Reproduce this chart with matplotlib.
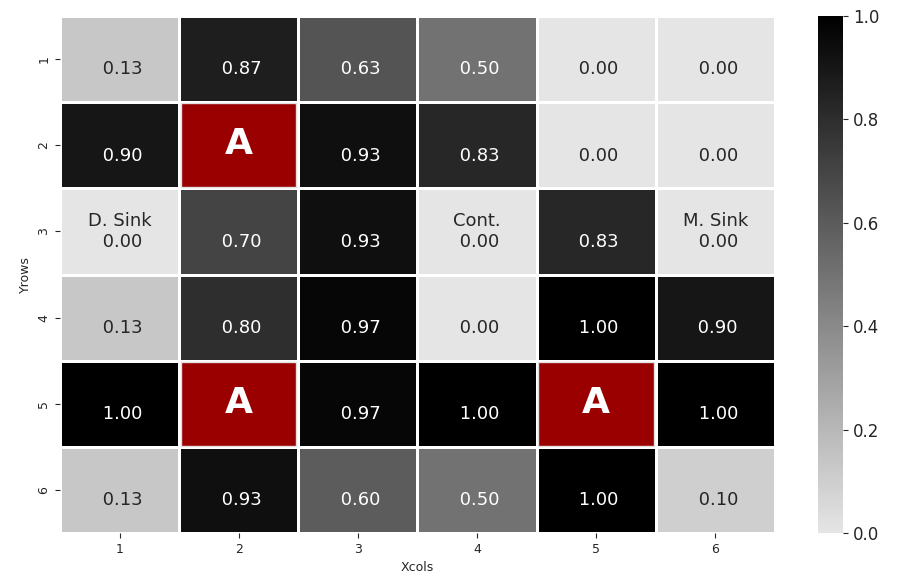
import numpy as np
import matplotlib
matplotlib.use("Agg")
import matplotlib.pyplot as plt
import seaborn as sns
from matplotlib.colors import LinearSegmentedColormap
from matplotlib.patches import Rectangle

xcols = [1, 2, 3, 4, 5, 6]
yrows = [1, 2, 3, 4, 5, 6]

# nan = agent cell ("A")
values = np.array([
    [0.13, 0.87, 0.63, 0.50, 0.00, 0.00],
    [0.90, np.nan, 0.93, 0.83, 0.00, 0.00],
    [0.00, 0.70, 0.93, 0.00, 0.83, 0.00],
    [0.13, 0.80, 0.97, 0.00, 1.00, 0.90],
    [1.00, np.nan, 0.97, 1.00, np.nan, 1.00],
    [0.13, 0.93, 0.60, 0.50, 1.00, 0.10],
])

cell_names = {(2, 0): "D. Sink", (2, 3): "Cont.", (2, 5): "M. Sink"}

labels = np.empty(values.shape, dtype=object)
for i in range(values.shape[0]):
    for j in range(values.shape[1]):
        v = values[i, j]
        labels[i, j] = "" if np.isnan(v) else f"{cell_names.get((i, j), '')}\n {v:.2f}"

plt.rcParams.update({
    "text.color": "#262626",
    "axes.labelcolor": "#262626",
    "xtick.color": "#262626",
    "ytick.color": "#262626",
})

cmap = LinearSegmentedColormap.from_list("grey_black", ["#e5e5e5", "#000000"])

fig = plt.figure(figsize=(9.03, 5.84), dpi=100)
ax = fig.add_axes([0.0664, 0.0873, 0.7916, 0.8853])
cax = fig.add_axes([0.906, 0.0873, 0.028, 0.8853])

sns.heatmap(values, mask=np.isnan(values), cmap=cmap, vmin=0, vmax=1,
            annot=labels, fmt="", annot_kws={"fontsize": 13},
            linewidths=1, linecolor="white",
            xticklabels=xcols, yticklabels=yrows, ax=ax, cbar_ax=cax)

for i in range(values.shape[0]):
    for j in range(values.shape[1]):
        if np.isnan(values[i, j]):
            ax.add_patch(Rectangle((j + 0.015, i + 0.015), 0.97, 0.97,
                                   facecolor="#9a0000", edgecolor="#e0e0e0", lw=1))
            ax.text(j + 0.5, i + 0.49, "A", ha="center", va="center",
                    color="white", fontsize=26, fontweight="bold")

ax.set_xlabel("Xcols", fontsize=9)
ax.set_ylabel("Yrows", fontsize=9)
ax.tick_params(labelsize=9)
cax.tick_params(labelsize=12)

fig.savefig("out.png", dpi=100)
